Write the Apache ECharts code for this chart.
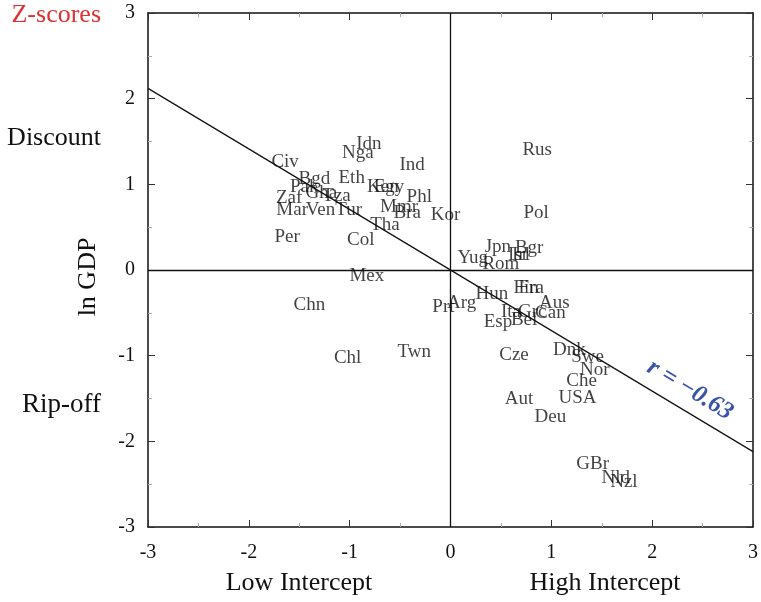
<!DOCTYPE html>
<html>
<head>
<meta charset="utf-8">
<script src="https://cdn.jsdelivr.net/npm/echarts@6/dist/echarts.min.js"></script>
<style>
  html, body { margin: 0; padding: 0; background: #fff; }
  #chart { width: 761px; height: 602px; }
</style>
</head>
<body>
<div id="chart"></div>
<script>
// country codes and their z-scores (intercept, ln GDP)
var names = ['Idn','Nga','Civ','Ind','Rus','Bgd','Eth','Ken','Egy','Pak','Gha','Tza','Phl','Zaf',
  'Mar','Ven','Tur','Mmr','Bra','Kor','Pol','Tha','Per','Col','Jpn','Bgr','Isr','Irl','Yug','Rom',
  'Mex','Chn','Fin','Fra','Hun','Aus','Arg','Prt','Ita','Grc','Can','Esp','Bel','Twn','Chl','Cze',
  'Dnk','Swe','Nor','Che','USA','Aut','Deu','GBr','Nld','Nzl'];
var xs = [-0.81,-0.92,-1.64,-0.38,0.86,-1.35,-0.98,-0.67,-0.61,-1.45,-1.28,-1.13,-0.31,-1.60,
  -1.57,-1.29,-1.01,-0.51,-0.43,-0.05,0.85,-0.65,-1.62,-0.89,0.47,0.78,0.67,0.70,0.22,0.50,
  -0.83,-1.40,0.75,0.80,0.41,1.03,0.11,-0.07,0.60,0.81,0.99,0.47,0.73,-0.36,-1.02,0.63,
  1.18,1.36,1.43,1.30,1.26,0.68,0.99,1.41,1.64,1.72];
var ys = [1.47,1.37,1.26,1.23,1.40,1.06,1.07,0.97,0.97,0.97,0.90,0.86,0.85,0.84,
  0.70,0.70,0.70,0.74,0.67,0.64,0.67,0.53,0.39,0.35,0.27,0.26,0.17,0.18,0.14,0.07,
  -0.07,-0.41,-0.21,-0.21,-0.28,-0.39,-0.39,-0.43,-0.49,-0.49,-0.50,-0.61,-0.58,-0.96,-1.03,-0.99,
  -0.93,-1.02,-1.17,-1.30,-1.49,-1.51,-1.72,-2.26,-2.43,-2.47];
// regression line ends
var fitX = [-3, 3];
var fitY = [2.12, -2.12];
var ticks = [-3, -2, -1, 0, 1, 2, 3];

var chart = echarts.init(document.getElementById('chart'));
var font = '"Liberation Serif", "DejaVu Serif", serif';

var pts = [];
for (var i = 0; i < names.length; i++) {
  pts.push({ value: [xs[i], ys[i]], name: names[i] });
}
var fit = [];
for (var j = 0; j < fitX.length; j++) {
  fit.push([fitX[j], fitY[j]]);
}

function axisBase(pos, showLabel, margin) {
  return {
    type: 'value', min: ticks[0], max: ticks[ticks.length - 1], interval: 1,
    position: pos,
    axisLine: { show: true, onZero: false, lineStyle: { color: '#111', width: 1.5 } },
    axisTick: { show: true, inside: true, length: 7, lineStyle: { color: '#333', width: 1 } },
    minorTick: { show: true, splitNumber: 2, length: 4, lineStyle: { color: '#aaa' } },
    splitLine: { show: false },
    axisLabel: { show: showLabel, color: '#111', fontFamily: font, fontSize: 20, margin: margin }
  };
}

var option = {
  backgroundColor: '#fff',
  animation: false,
  grid: { left: 148, right: 8, top: 13, bottom: 75 },
  xAxis: [axisBase('bottom', true, 16), axisBase('top', false, 8)],
  yAxis: [axisBase('left', true, 13), axisBase('right', false, 8)],
  graphic: [
    { type: 'text', x: 101, y: 15, style: { text: 'Z-scores', fill: '#e03030', font: '26px ' + font, align: 'right', verticalAlign: 'middle' } },
    { type: 'text', x: 101, y: 138, style: { text: 'Discount', fill: '#111', font: '26px ' + font, align: 'right', verticalAlign: 'middle' } },
    { type: 'text', x: 101, y: 405, style: { text: 'Rip-off', fill: '#111', font: '27px ' + font, align: 'right', verticalAlign: 'middle' } },
    { type: 'text', x: 88, y: 277, rotation: Math.PI / 2, style: { text: 'ln GDP', fill: '#111', font: '26px ' + font, align: 'center', verticalAlign: 'middle' } },
    { type: 'text', x: 299, y: 583, style: { text: 'Low Intercept', fill: '#111', font: '26px ' + font, align: 'center', verticalAlign: 'middle' } },
    { type: 'text', x: 605, y: 583, style: { text: 'High Intercept', fill: '#111', font: '26px ' + font, align: 'center', verticalAlign: 'middle' } },
    { type: 'text', x: 690, y: 390, rotation: -0.54,
      style: { text: 'r = \u22120.63', fill: '#3a55a8', font: 'italic bold 25px ' + font, align: 'center', verticalAlign: 'middle' } }
  ],
  series: [
    {
      type: 'line', data: fit, symbol: 'none', silent: true,
      lineStyle: { color: '#111', width: 1.2 },
      markLine: {
        symbol: 'none', silent: true, label: { show: false },
        lineStyle: { color: '#111', width: 1.3, type: 'solid' },
        data: [{ xAxis: 0 }, { yAxis: 0 }]
      }
    },
    {
      type: 'scatter', data: pts, symbolSize: 0,
      label: {
        show: true, position: 'inside', formatter: '{b}',
        color: '#111', fontFamily: font, fontSize: 19
      }
    }
  ]
};
chart.setOption(option);
</script>
</body>
</html>
